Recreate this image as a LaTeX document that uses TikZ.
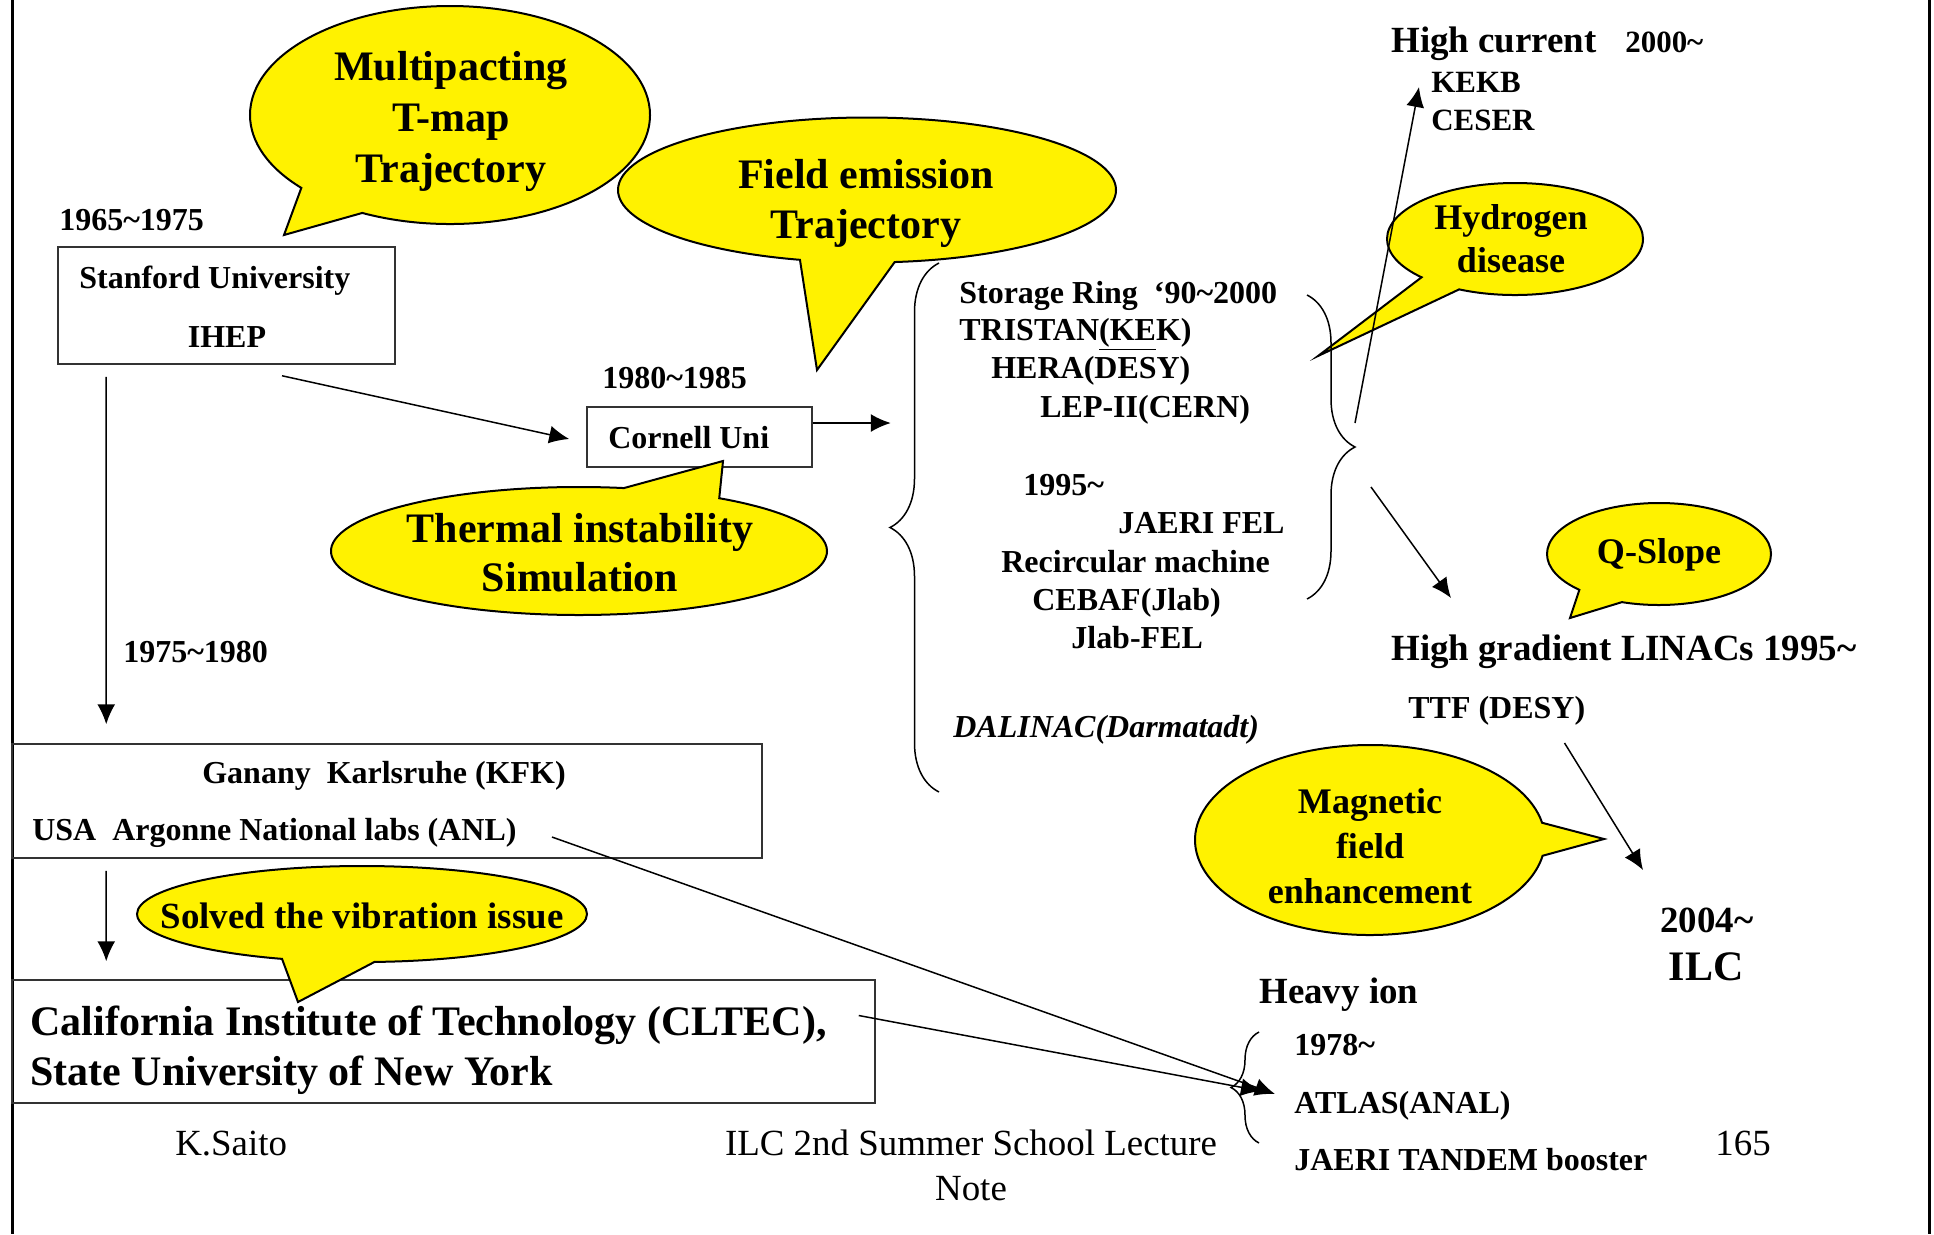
\documentclass[tikz,border=0pt]{standalone}
\usepackage{fontspec}
\setmainfont{Liberation Serif}
\usetikzlibrary{arrows.meta,positioning,shapes.callouts,decorations.pathreplacing,calc}

\begin{document}
\begin{tikzpicture}[x=0.2mm,y=-0.2mm,>=Latex,
  txt/.style={inner sep=0pt,anchor=base west,font=\bfseries\fontsize{18.2}{22}\selectfont},
  head/.style={txt,font=\bfseries\fontsize{21}{25}\selectfont},
  bigtxt/.style={inner sep=0pt,align=center,font=\bfseries\fontsize{23.9}{29}\selectfont},
  midtxt/.style={inner sep=0pt,align=center,font=\bfseries\fontsize{20.5}{24.5}\selectfont},
  foot/.style={inner sep=0pt,font=\fontsize{21}{25.6}\selectfont},
  bubble/.style={ellipse callout,draw=black,line width=0.4mm,fill=yellow,inner sep=0pt},
  box/.style={draw=black!80,line width=0.3mm,inner sep=0pt},
  arr/.style={-{Latex[length=4mm,width=3.6mm]},line width=0.3mm},
  brc/.style={decorate,line width=0.3mm}]
\useasboundingbox (0,0) rectangle (1934,1234);
% side rules of the page
\draw[line width=0.6mm] (12,0) -- (12,1234);
\draw[line width=0.6mm] (1929,0) -- (1929,1234);

% labs
\node[box,minimum width=67.4mm,minimum height=23.4mm] (stanford) at (226.5,305.5) {};
\node[box,minimum width=45mm,minimum height=12mm] (cornell) at (699.5,437) {};
\node[box,minimum width=150mm,minimum height=22.8mm] (ganany) at (387,801) {};
\node[box,minimum width=172.6mm,minimum height=24.6mm] (cltec) at (443.5,1041.5) {};

\node[txt] (yr1) at (59,230) {1965\textasciitilde1975};
\node[txt] (stan) at (79,288) {Stanford University};
\node[txt,anchor=base] (ihep) at (227,347) {IHEP};
\node[txt] (yr2) at (602,388) {1980\textasciitilde1985};
\node[txt] (cornelltxt) at (608,448) {Cornell Uni};
\node[txt] (yr3) at (123,662) {1975\textasciitilde1980};
\node[txt] (kfk) at (202,783) {Ganany\enspace Karlsruhe (KFK)};
\node[txt] (anl) at (32,840) {USA\enspace Argonne National labs (ANL)};
\node[bigtxt,align=left,anchor=west,font=\bfseries\fontsize{23.9}{28.5}\selectfont] (caltech) at (30,1050) {California Institute of Technology (CLTEC),\\State University of New York};

% storage rings and recirculating machines
\node[txt] (ring) at (959,303) {Storage Ring\enspace`90\textasciitilde2000};
\node[txt] (tristan) at (959,340) {TRISTAN\underline{(KE}K)};
\node[txt] (hera) at (991,378) {HERA(DESY)};
\node[txt] (lep) at (1040,417) {LEP-II(CERN)};
\node[txt] (yr4) at (1023,495) {1995\textasciitilde};
\node[txt] (jaerifel) at (1118,533) {JAERI FEL};
\node[txt] (recirc) at (1001,572) {Recircular machine};
\node[txt] (cebaf) at (1032,610) {CEBAF(Jlab)};
\node[txt] (jlabfel) at (1071,648) {Jlab-FEL};
\node[txt,font=\bfseries\itshape\fontsize{18.2}{22}\selectfont] (dalinac) at (953,737) {DALINAC(Darmatadt)};

% right column
\node[head] (current) at (1391,52) {High current};
\node[txt,font=\bfseries\fontsize{17.6}{21}\selectfont] (yr5) at (1625,52) {2000\textasciitilde};
\node[txt,font=\bfseries\fontsize{17.6}{21}\selectfont] (kekb) at (1431,92) {KEKB};
\node[txt,font=\bfseries\fontsize{17.6}{21}\selectfont] (ceser) at (1431,130) {CESER};
\node[head] (linacs) at (1391,660) {High gradient LINACs 1995\textasciitilde};
\node[txt] (ttf) at (1408,718) {TTF (DESY)};
\node[head,anchor=base] (ilcyear) at (1707,932) {2004\textasciitilde};
\node[bigtxt,anchor=base] (ilc) at (1706,980) {ILC};
\node[head] (heavy) at (1259,1003) {Heavy ion};
\node[txt] (yr6) at (1294,1055) {1978\textasciitilde};
\node[txt] (atlas) at (1294,1113) {ATLAS(ANAL)};
\node[txt] (tandem) at (1294,1170) {JAERI TANDEM booster};

% footer
\node[foot,anchor=base west] (author) at (175,1155) {K.Saito};
\node[foot,align=center] (note) at (971,1165) {ILC 2nd Summer School Lecture\\Note};
\node[foot,anchor=base west] (page) at (1715,1155) {165};

% callouts
\node[bubble,minimum width=80mm,minimum height=43.6mm,callout pointer arc=22,callout absolute pointer={(284,235)}] (multi) at (450,115) {};
\node[bigtxt] (multitxt) at (451,121) {Multipacting\\T-map\\Trajectory};
\node[bubble,minimum width=99.6mm,minimum height=29mm,callout pointer arc=22,callout absolute pointer={(817,370)}] (field) at (867,190) {};
\node[bigtxt,font=\bfseries\fontsize{23.9}{28.5}\selectfont] (fieldtxt) at (866,203) {Field emission\\Trajectory};
\node[bubble,minimum width=99.2mm,minimum height=25.6mm,callout pointer arc=24,callout absolute pointer={(723,461)}] (thermal) at (579,551) {};
\node[bigtxt,font=\bfseries\fontsize{23.9}{27.9}\selectfont] (thermtxt) at (580,553) {Thermal instability\\Simulation};
\node[bubble,minimum width=90mm,minimum height=19.2mm,callout pointer arc=24,callout absolute pointer={(298,1002)}] (solved) at (362,914) {};
\node[head,anchor=base] (solvedtxt) at (362,928) {Solved the vibration issue};
\node[bubble,minimum width=51.2mm,minimum height=22.4mm,callout pointer arc=21,callout absolute pointer={(1318,356)}] (hydrogen) at (1515,239) {};
\node[midtxt] (hydtxt) at (1511,239) {Hydrogen\\disease};
\node[bubble,minimum width=44.8mm,minimum height=20.4mm,callout pointer arc=26,callout absolute pointer={(1570,618)}] (qslope) at (1659,554) {};
\node[head,anchor=base,font=\bfseries\fontsize{20.5}{24}\selectfont] (qtxt) at (1659,563) {Q-Slope};
\node[bubble,minimum width=70mm,minimum height=38mm,callout pointer arc=20,callout absolute pointer={(1604,839)}] (magnetic) at (1370,840) {};
\node[midtxt,font=\bfseries\fontsize{20.5}{25.6}\selectfont] (magtxt) at (1370,846) {Magnetic\\field\\enhancement};

% braces
\draw[brc,decoration={brace,amplitude=9.8mm}] (939,792) -- (939,263);
\draw[brc,decoration={brace,amplitude=9.6mm}] (1307,295) -- (1307,599);
\draw[brc,decoration={brace,amplitude=5.6mm}] (1259,1143) -- (1259,1032);
\coordinate (rcusp) at (1355,447);

% arrows
\draw[arr] ($(stanford.south)+(55.5,11)$) -- ($(cornell.west)+(-17,2)$);
\draw[arr] ($(stanford.south west)+(49,12)$) -- ($(ganany.north west)+(95,-19)$);
\draw[arr] ($(cornell.east)+(0,-14)$) -- ($(cornell.east)+(78,-14)$);
\draw[arr] ($(ganany.south west)+(95,12)$) -- ($(cltec.north west)+(95,-18)$);
\draw[arr] ($(anl.base east)+(35,-3)$) -- ($(atlas.base west)+(-19,-19)$);
\draw[arr] ($(cltec.east)+(-17,-26)$) -- ($(atlas.base west)+(-33,-22)$);
\draw[arr] ($(rcusp)+(0,-24)$) -- ($(kekb.base west)+(-12,-5)$);
\draw[arr] ($(rcusp)+(16,40)$) -- ($(linacs.base west)+(60,-62)$);
\draw[arr] ($(ttf.base east)+(-21,25)$) -- ($(ilcyear.base)+(-64,-62)$);
\end{tikzpicture}
\end{document}
